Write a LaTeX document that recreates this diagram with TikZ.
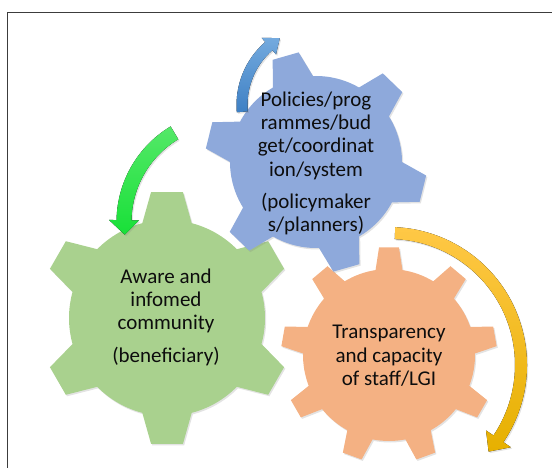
\documentclass[tikz,border=0pt]{standalone}
\usepackage{fontspec}
\setmainfont{Carlito}
\usetikzlibrary{shadows}

\definecolor{gearblue}{RGB}{142,169,219}
\definecolor{geargreen}{RGB}{169,209,142}
\definecolor{gearorange}{RGB}{244,177,131}
\definecolor{framegray}{RGB}{60,60,60}

\tikzset{
  gear/.style={drop shadow={shadow xshift=1.2pt,shadow yshift=-1.5pt,opacity=.22}},
  turnarrow/.style={drop shadow={shadow xshift=1.2pt,shadow yshift=-1.5pt,opacity=.22}},
  geartext/.style={align=center,font=\fontsize{21}{23.3}\selectfont,text=black!95},
}

% teeth, first tooth angle, body radius, tip radius, half angle at base, half angle at tip
\newcommand\gearpath[6]{%
  ({#2-#5}:#3) foreach \i in {1,...,#1}{
    -- ({#2+(\i-1)*360/#1-#6}:#4) -- ({#2+(\i-1)*360/#1+#6}:#4)
    -- ({#2+(\i-1)*360/#1+#5}:#3)
    arc[start angle={#2+(\i-1)*360/#1+#5},end angle={#2+\i*360/#1-#5},radius=#3]
  } -- cycle}

\begin{document}
\begin{tikzpicture}[x=1pt,y=-1pt]
  \useasboundingbox (0,0) rectangle (552,468);

  % frame
  \draw[framegray,line width=1.3pt] (7.5,468) -- (7.5,12.7) -- (552,12.7);

  % gears
  \coordinate (greenc) at (167,318);
  \coordinate (orangec) at (389,355);
  \coordinate (bluec) at (316,162);

  \fill[gear,fill=geargreen,shift={(greenc)}] \gearpath{6}{-90}{98}{127}{14.6}{7.2};
  \fill[gear,fill=gearorange,shift={(orangec)}] \gearpath{9}{-90}{86}{108}{9}{5.3};
  \fill[gear,fill=gearblue,shift={(bluec)}] \gearpath{6}{-106}{86}{111}{14}{7};

  \node[geartext] (community) at (166,317)
    {Aware and\\infomed\\community\\[9pt](beneficiary)};
  \node[geartext] (staff) at (389,356)
    {Transparency\\and capacity\\of staff/LGI};
  \node[geartext] (policies) at (316,163.5)
    {Policies/prog\\rammes/bud\\get/coordinat\\ion/system\\[9pt](policymaker\\s/planners)};

  % turning arrows
  \begin{scope}[shift={(320,105)}]
    \fill[turnarrow,top color={rgb,255:red,116;green,170;blue,222},
      bottom color={rgb,255:red,62;green,128;blue,196}]
      (-185:72.5) arc[start angle=-185,end angle=-131,radius=72.5]
      -- (-131:67) -- (-121:78) -- (-131:89) -- (-131:83.5)
      arc[start angle=-131,end angle=-185,radius=83.5] -- cycle;
  \end{scope}

  \begin{scope}[shift={(228,222)}]
    \fill[turnarrow,top color={rgb,255:red,84;green,232;blue,104},
      bottom color={rgb,255:red,24;green,224;blue,56}]
      (-121:96.5) arc[start angle=-121,end angle=-179,radius=96.5]
      -- (-179:89) -- (-187:104) -- (-179:119) -- (-179:111.5)
      arc[start angle=-179,end angle=-121,radius=111.5] -- cycle;
  \end{scope}

  \begin{scope}[shift={(389,365)}]
    \fill[turnarrow,top color={rgb,255:red,255;green,200;blue,70},
      bottom color={rgb,255:red,230;green,176;blue,0}]
      (-87.4:126) arc[start angle=-87.4,end angle=34,radius=126]
      -- (34:117) -- (41:132) -- (34:147) -- (34:138)
      arc[start angle=34,end angle=-87.4,radius=138] -- cycle;
  \end{scope}
\end{tikzpicture}
\end{document}
